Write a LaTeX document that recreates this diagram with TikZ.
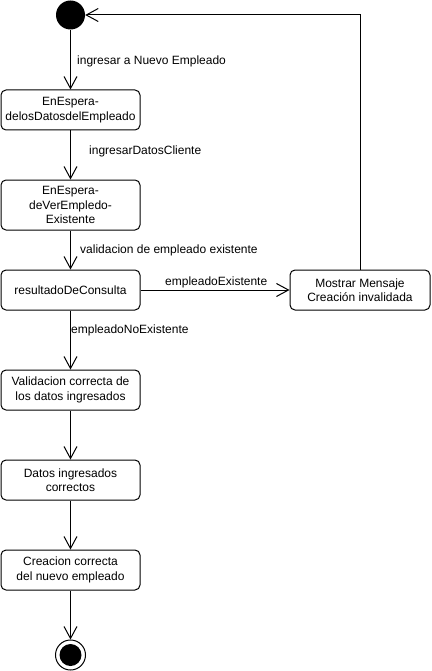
\documentclass[tikz,border=0pt]{standalone}
\usepackage{fontspec}
\setmainfont{Liberation Sans}
\usetikzlibrary{arrows.meta}
\begin{document}
\begin{tikzpicture}[x=1pt,y=1pt,
    estado/.style={draw,line width=1pt,rounded corners=5pt,minimum width=139pt,minimum height=40pt,align=center,font=\fontsize{12}{14.5}\selectfont},
    trans/.style={line width=1pt,-{Straight Barb[length=12pt,width=13pt]}},
    etiq/.style={anchor=west,inner sep=0pt,font=\fontsize{12}{14.5}\selectfont}]
    \useasboundingbox (0,0) rectangle (431,-671);
    \node [circle,fill,minimum size=29pt,inner sep=0pt] (inicio) at (70.5,-15) {};
    \node [estado] (espera1) at (70.5,-110) {EnEspera-\\delosDatosdelEmpleado};
    \node [estado,minimum height=50pt] (espera2) at (70.5,-205) {EnEspera-\\deVerEmpledo-\\Existente};
    \node [estado] (consulta) at (70.5,-290) {resultadoDeConsulta};
    \node [estado,minimum width=140pt] (mensaje) at (360,-290) {Mostrar Mensaje\\Creación invalidada};
    \node [estado] (validacion) at (70.5,-390) {Validacion correcta de\\los datos ingresados};
    \node [estado] (datos) at (70.5,-480) {Datos ingresados\\correctos};
    \node [estado] (creacion) at (70.5,-570) {Creacion correcta\\del nuevo empleado};
    \node [circle,draw,line width=1pt,minimum size=30pt,inner sep=0pt] (fin) at (70.5,-655) {};
    \fill (fin.center) circle [radius=11];
    % transiciones
    \draw [trans] (inicio) -- (espera1);
    \draw [trans] (espera1) -- (espera2);
    \draw [trans] (espera2) -- (consulta);
    \draw [trans] (consulta) -- (mensaje);
    \draw [trans] (consulta) -- (validacion);
    \draw [trans] (validacion) -- (datos);
    \draw [trans] (datos) -- (creacion);
    \draw [trans] (creacion) -- (fin);
    \draw [trans] (mensaje.north) |- (inicio.east);
    % etiquetas
    \node [etiq] (l1) at (77,-61) {ingresar a Nuevo Empleado};
    \node [etiq] (l2) at (89,-151) {ingresarDatosCliente};
    \node [etiq] (l3) at (80,-250) {validacion de empleado existente};
    \node [etiq] (l4) at (165,-282) {empleadoExistente};
    \node [etiq] (l5) at (71,-330) {empleadoNoExistente};
\end{tikzpicture}
\end{document}
